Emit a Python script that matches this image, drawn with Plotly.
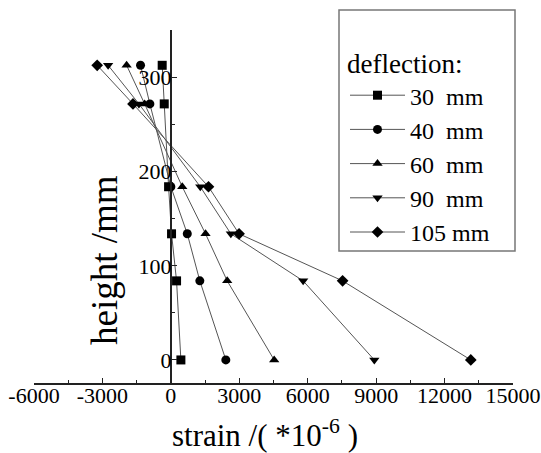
import plotly.graph_objects as go

heights = [0, 84, 134, 184, 272, 313]
labels = ["30\u00a0\u00a0mm", "40\u00a0\u00a0mm", "60\u00a0\u00a0mm", "90\u00a0\u00a0mm", "105\u00a0mm"]
strain_30 = [440, 250, 30, -100, -290, -380]
strain_40 = [2410, 1270, 720, 0, -920, -1330]
strain_60 = [4530, 2470, 1520, 500, -1150, -1940]
strain_90 = [8920, 5800, 2630, 1290, -1400, -2750]
strain_105 = [13150, 7530, 2990, 1650, -1660, -3230]
series = [strain_30, strain_40, strain_60, strain_90, strain_105]
symbols = ["square", "circle", "triangle-up", "triangle-down", "diamond"]
x_ticks = [-6000, -3000, 0, 3000, 6000, 9000, 12000, 15000]
y_ticks = [0, 100, 200, 300]

FONT = "Liberation Serif"
fig = go.Figure()
for lab, vals, sym in zip(labels, series, symbols):
    fig.add_trace(go.Scatter(
        x=vals, y=heights, name=lab, mode="lines+markers",
        line=dict(color="#555555", width=1),
        marker=dict(symbol=sym, size=9, color="black"),
    ))

L, R, T, B = 34, 28, 30, 70
W, H = 541, 453
pw = W - L - R
ph = H - T - B
xr = [-6000, 15000]
ypos = (0 - xr[0]) / (xr[1] - xr[0])


def px_x(v):
    return (v - L) / pw


def px_y(v):
    return (H - B - v) / ph


fig.update_layout(
    width=W, height=H,
    margin=dict(l=L, r=R, t=T, b=B, autoexpand=False),
    paper_bgcolor="white", plot_bgcolor="white",
    font=dict(family=FONT, color="black", size=20),
    showlegend=True,
    legend=dict(
        xref="container", yref="container",
        x=345 / W, y=1 - 38 / H,
        xanchor="left", yanchor="top",
        borderwidth=0, bgcolor="rgba(0,0,0,0)",
        font=dict(family=FONT, size=24, color="black"),
        title=dict(text="deflection:", font=dict(family=FONT, size=27)),
        itemwidth=55,
    ),
    xaxis=dict(
        range=xr, tickvals=x_ticks, ticktext=[str(v) for v in x_ticks],
        ticks="inside", ticklen=5, tickwidth=1.2, tickcolor="#222",
        minor=dict(dtick=1500, ticks="inside", ticklen=3, tickcolor="#222", tickwidth=1.2),
        showline=True, linecolor="#222", linewidth=1.8,
        showgrid=False, zeroline=False, automargin=False,
        ticklabeloverflow="allow", ticklabelstandoff=-8,
        tickfont=dict(family=FONT, size=22),
    ),
    yaxis=dict(
        range=[-24.5, 350.5], tickvals=y_ticks,
        anchor="free", position=ypos, side="left",
        ticks="inside", ticklen=5, tickwidth=1.2, tickcolor="#222",
        minor=dict(dtick=50, ticks="inside", ticklen=3, tickcolor="#222", tickwidth=1.2),
        showline=True, linecolor="#222", linewidth=1.8,
        showgrid=False, zeroline=False, automargin=False,
        ticklabelstandoff=-6,
        tickfont=dict(family=FONT, size=22),
    ),
    shapes=[dict(type="rect", xref="paper", yref="paper",
                 x0=px_x(339), x1=px_x(515), y0=px_y(251), y1=px_y(10),
                 line=dict(color="#777777", width=1.5), layer="below")],
    annotations=[
        dict(text="strain /( *10<sup>-6</sup> )", x=px_x(265), y=px_y(433),
             xref="paper", yref="paper", xanchor="center", yanchor="middle",
             showarrow=False, font=dict(family=FONT, size=31)),
        dict(text="height /mm", x=px_x(104), y=px_y(260),
             xref="paper", yref="paper", xanchor="center", yanchor="middle",
             showarrow=False, textangle=-90, font=dict(family=FONT, size=37)),
    ],
)
fig.write_html("out.html")
